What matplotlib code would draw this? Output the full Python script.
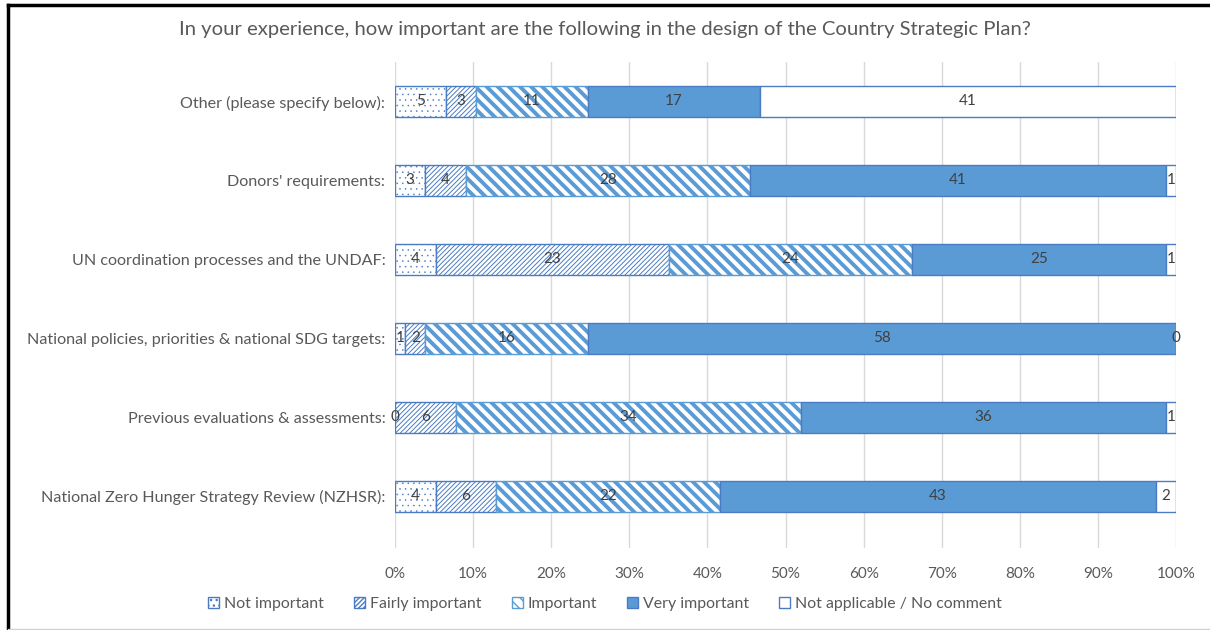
import matplotlib
matplotlib.use("Agg")
import matplotlib.pyplot as plt
import numpy as np
from matplotlib.lines import Line2D

categories = [
    "National Zero Hunger Strategy Review (NZHSR):",
    "Previous evaluations & assessments:",
    "National policies, priorities & national SDG targets:",
    "UN coordination processes and the UNDAF:",
    "Donors' requirements:",
    "Other (please specify below):",
]
series_names = ["Not important", "Fairly important", "Important",
                "Very important", "Not applicable / No comment"]
not_important = [4, 0, 1, 4, 3, 5]
fairly_important = [6, 6, 2, 23, 4, 3]
important = [22, 34, 16, 24, 28, 11]
very_important = [43, 36, 58, 25, 41, 17]
not_applicable = [2, 1, 0, 1, 1, 41]
xticks = [0, 10, 20, 30, 40, 50, 60, 70, 80, 90, 100]
title = "In your experience, how important are the following in the design of the Country Strategic Plan?"

plt.rcParams['font.family'] = ['Lato', 'DejaVu Sans']
BLUE = "#5B9BD5"
EDGE = "#4A7CC4"
TXT = "#595959"

fig = plt.figure(figsize=(12.1, 6.3), dpi=100)
ax = fig.add_axes([395/1210, (630-548)/630, (1176-395)/1210, (548-62)/630])

data = np.array([not_important, fairly_important, important, very_important, not_applicable], dtype=float)
totals = data.sum(axis=0)
pct = data / totals * 100
y = np.arange(len(categories))
styles = [
    dict(color="white", hatch="...", hlw=0.35, edge=EDGE),
    dict(color="white", hatch="///////", hlw=0.7, edge=EDGE),
    dict(color="white", hatch="\\\\\\", hlw=2.8, edge=BLUE),
    dict(color=BLUE, hatch=None, hlw=1.0, edge=EDGE),
    dict(color="white", hatch=None, hlw=1.0, edge=EDGE),
]
left = np.zeros(len(categories))
containers = []
for i, st in enumerate(styles):
    with plt.rc_context({'hatch.linewidth': st['hlw']}):
        bars = ax.barh(y, pct[i], left=left, height=0.40, color=st['color'],
                       edgecolor=st['edge'], linewidth=1.0, hatch=st['hatch'], zorder=3)
        for b in bars:
            if hasattr(b, "set_hatch_linewidth"):
                b.set_hatch_linewidth(st['hlw'])
    containers.append(bars)
    for j in range(len(categories)):
        ax.text(left[j] + pct[i][j] / 2, y[j], f"{int(data[i][j])}", ha="center", va="center",
                fontsize=11, color="#404040", zorder=5)
    left += pct[i]

ax.set_xlim(0, 100)
ax.set_ylim(-0.654, 5.5)
ax.set_yticks(y)
ax.set_yticklabels(categories, fontsize=11.6, color=TXT)
ax.set_xticks(xticks)
ax.set_xticklabels([f"{t}%" for t in xticks], fontsize=11, color=TXT)
ax.tick_params(axis='y', length=0, pad=7)
ax.tick_params(axis='x', length=0, pad=14)
for s in ax.spines.values():
    s.set_visible(False)
ax.grid(axis='x', color="#D9D9D9", linewidth=1.0, zorder=0)

fig.text(0.5, 1 - 30/630, title, ha="center", va="center", fontsize=14.6, color=TXT)

fig.legend(containers, series_names, loc="center", bbox_to_anchor=(0.5, 1 - 604/630), ncol=5,
           frameon=False, fontsize=11.4, handlelength=0.7, handleheight=0.7,
           handletextpad=0.3, columnspacing=1.9, labelcolor=TXT)

# figure frame (left & top thick black, bottom light)
fig.add_artist(Line2D([8/1210, 8/1210], [0, 1 - 5/630], color="black", linewidth=2.5, transform=fig.transFigure))
fig.add_artist(Line2D([8/1210, 1], [1 - 5/630, 1 - 5/630], color="black", linewidth=2.5, transform=fig.transFigure))
fig.add_artist(Line2D([8/1210, 1], [1/630, 1/630], color="#d0d0d0", linewidth=1, transform=fig.transFigure))

fig.savefig("out.png", dpi=100)
